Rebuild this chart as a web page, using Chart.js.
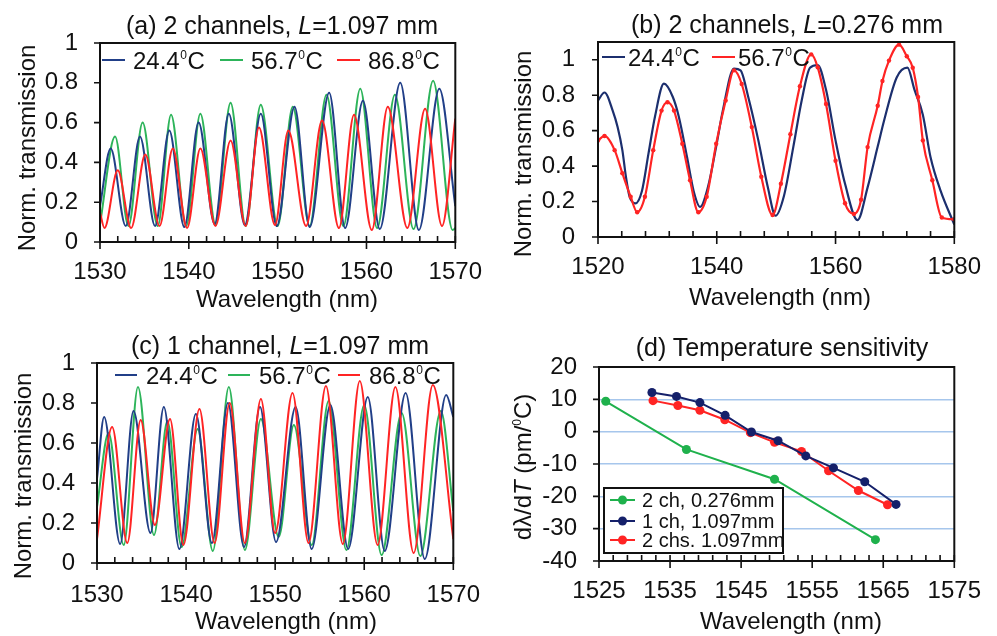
<!DOCTYPE html>
<html>
<head>
<meta charset="utf-8">
<script src="https://cdn.jsdelivr.net/npm/chart.js@4.4.1/dist/chart.umd.min.js"></script>
<style>
  html, body { margin: 0; padding: 0; background: #fff; }
  #page { position: relative; width: 997px; height: 636px; overflow: hidden;
          font-family: 'Liberation Sans', Arial, sans-serif; color: #111; }
  canvas { position: absolute; }
  .lbl { position: absolute; white-space: nowrap; line-height: 1; font-size: 24px;
         transform: translate(-50%, -50%); }
  .ttl { font-size: 25px; }
  .rot { transform: translate(-50%, -50%) rotate(-90deg); }
  sup { font-size: 0.5em; vertical-align: 0.85em; line-height: 0; }
</style>
</head>
<body>
<div id="page">
  <canvas id="chartA" width="498" height="318" style="left:0;top:0"></canvas>
  <canvas id="chartB" width="497" height="318" style="left:500px;top:0"></canvas>
  <canvas id="chartC" width="498" height="318" style="left:0;top:318px"></canvas>
  <canvas id="chartD" width="497" height="318" style="left:500px;top:318px"></canvas>

  <div class="lbl ttl" style="left:282px;top:25px">(a) 2 channels, <i>L</i>=1.097 mm</div>
  <div class="lbl ttl" style="left:787px;top:24px">(b) 2 channels, <i>L</i>=0.276 mm</div>
  <div class="lbl ttl" style="left:280px;top:345px">(c) 1 channel, <i>L</i>=1.097 mm</div>
  <div class="lbl ttl" style="left:782px;top:347px">(d) Temperature sensitivity</div>

  <div class="lbl" style="left:287px;top:299px">Wavelength (nm)</div>
  <div class="lbl" style="left:780px;top:297px">Wavelength (nm)</div>
  <div class="lbl" style="left:286px;top:621px">Wavelength (nm)</div>
  <div class="lbl" style="left:791px;top:621px">Wavelength (nm)</div>

  <div class="lbl rot" style="left:27px;top:148px">Norm. transmission</div>
  <div class="lbl rot" style="left:523px;top:154px">Norm. transmission</div>
  <div class="lbl rot" style="left:23px;top:476px">Norm. transmission</div>
  <div class="lbl rot" style="left:523px;top:467px">dλ/d<i>T</i> (pm/<sup>0</sup>C)</div>
</div>
<script>
// Legenden
const tempLabels = ['24.4⁰C', '56.7⁰C', '86.8⁰C'];
const sensLabels = ['2 ch, 0.276mm', '1 ch, 1.097mm', '2 chs. 1.097mm'];
// Achsenteilung von (b): 1.1 ist nur der Rand, ohne Beschriftung
const bYTicks = [0, 0.2, 0.4, 0.6, 0.8, 1];

// (a) 2 channels, L=1.097 mm
const aBlueX = [1530, 1531.2, 1532.9, 1534.5, 1536.2, 1537.8, 1539.5, 1541.1, 1542.9, 1544.5, 1546.3, 1548.1, 1549.9, 1551.9, 1553.6, 1555.8, 1557.6, 1559.6, 1561.5, 1563.8, 1565.9, 1568.2, 1570];
const aBlueY = [0.18, 0.47, 0.08, 0.53, 0.08, 0.56, 0.075, 0.60, 0.09, 0.645, 0.085, 0.645, 0.08, 0.68, 0.075, 0.75, 0.07, 0.71, 0.065, 0.80, 0.06, 0.77, 0.18];
const aGreenX = [1530, 1531.7, 1533.2, 1534.8, 1536.5, 1538.0, 1539.7, 1541.3, 1543.0, 1544.7, 1546.4, 1548.1, 1550.0, 1551.7, 1553.6, 1555.5, 1557.4, 1559.3, 1561.2, 1563.2, 1565.3, 1567.5, 1569.7, 1570];
const aGreenY = [0.09, 0.53, 0.08, 0.60, 0.08, 0.64, 0.08, 0.645, 0.09, 0.70, 0.08, 0.69, 0.08, 0.68, 0.08, 0.74, 0.08, 0.77, 0.07, 0.74, 0.065, 0.81, 0.06, 0.07];
const aRedX = [1530, 1530.5, 1532.0, 1533.5, 1535.1, 1536.7, 1538.2, 1539.8, 1541.3, 1543.0, 1544.7, 1546.4, 1547.9, 1549.7, 1551.2, 1553.2, 1555.0, 1556.9, 1558.6, 1560.6, 1562.4, 1564.6, 1566.6, 1568.5, 1570];
const aRedY = [0.15, 0.07, 0.36, 0.07, 0.44, 0.08, 0.47, 0.07, 0.47, 0.08, 0.51, 0.08, 0.575, 0.085, 0.56, 0.08, 0.61, 0.07, 0.64, 0.06, 0.68, 0.07, 0.67, 0.08, 0.62];

// (b) 2 channels, L=0.276 mm
const bBlueX = [1520, 1521.1, 1522.5, 1523.3, 1524.1, 1524.7, 1525.3, 1526.3, 1527.4, 1528.5, 1529.6, 1531.1, 1532.6, 1533.6, 1535.0, 1536.1, 1537.2, 1538.5, 1539.9, 1541.0, 1542.9, 1544.0, 1545.3, 1547.0, 1548.6, 1549.9, 1551.3, 1552.9, 1554.3, 1555.7, 1557.0, 1558.4, 1560.0, 1561.6, 1563.7, 1565.4, 1567.1, 1568.2, 1570.3, 1572.1, 1573.3, 1574.7, 1576.0, 1577.7, 1580];
const bBlueY = [0.77, 0.815, 0.71, 0.62, 0.49, 0.34, 0.23, 0.19, 0.26, 0.47, 0.68, 0.865, 0.79, 0.68, 0.45, 0.26, 0.17, 0.28, 0.51, 0.71, 0.95, 0.94, 0.79, 0.545, 0.28, 0.12, 0.23, 0.51, 0.77, 0.955, 0.97, 0.83, 0.545, 0.30, 0.095, 0.28, 0.51, 0.66, 0.90, 0.955, 0.83, 0.69, 0.45, 0.26, 0.07];
const bRedX = [1520, 1521.1, 1522.8, 1524.1, 1525.5, 1526.6, 1527.9, 1529.3, 1530.7, 1531.7, 1532.8, 1534.2, 1535.5, 1536.9, 1538.3, 1539.9, 1541.5, 1542.9, 1544.2, 1545.9, 1547.5, 1549.4, 1550.8, 1552.4, 1554.0, 1555.9, 1557.0, 1558.4, 1560.0, 1561.6, 1563.1, 1564.3, 1565.4, 1567.1, 1567.9, 1569.0, 1570.7, 1572.0, 1573.0, 1573.9, 1574.7, 1576.3, 1577.9, 1580];
const bRedY = [0.545, 0.57, 0.49, 0.36, 0.227, 0.14, 0.227, 0.49, 0.713, 0.76, 0.713, 0.526, 0.32, 0.14, 0.227, 0.526, 0.77, 0.94, 0.863, 0.62, 0.34, 0.124, 0.30, 0.58, 0.85, 1.03, 0.957, 0.75, 0.43, 0.19, 0.13, 0.21, 0.507, 0.74, 0.88, 0.995, 1.085, 1.02, 0.955, 0.79, 0.545, 0.32, 0.11, 0.10];

// (c) 1 channel, L=1.097 mm
const cBlueX = [1530, 1530.8, 1532.6, 1534.1, 1536.0, 1537.5, 1539.25, 1541.1, 1542.9, 1544.7, 1546.5, 1548.3, 1550.1, 1552.3, 1554.1, 1556.2, 1558.2, 1560.4, 1562.3, 1564.65, 1566.8, 1569.2, 1570];
const cBlueY = [0.42, 0.73, 0.095, 0.76, 0.15, 0.78, 0.07, 0.745, 0.10, 0.80, 0.08, 0.78, 0.105, 0.78, 0.07, 0.79, 0.07, 0.83, 0.06, 0.85, 0.02, 0.84, 0.73];
const cGreenX = [1530, 1531.3, 1533.0, 1534.6, 1536.4, 1537.9, 1539.5, 1541.3, 1543.0, 1544.8, 1546.6, 1548.4, 1550.4, 1552.1, 1554.1, 1556.0, 1558.0, 1560.0, 1561.95, 1564.2, 1566.3, 1568.6, 1570];
const cGreenY = [0.28, 0.65, 0.09, 0.88, 0.14, 0.71, 0.08, 0.67, 0.06, 0.88, 0.065, 0.72, 0.13, 0.69, 0.09, 0.81, 0.065, 0.79, 0.04, 0.75, 0.035, 0.76, 0.26];
const cRedX = [1530, 1531.7, 1533.4, 1534.9, 1536.5, 1538.2, 1539.7, 1541.5, 1543.2, 1544.9, 1546.6, 1548.4, 1550.0, 1551.95, 1553.75, 1555.7, 1557.6, 1559.5, 1561.5, 1563.5, 1565.55, 1567.7, 1570];
const cRedY = [0.12, 0.68, 0.10, 0.715, 0.19, 0.72, 0.09, 0.77, 0.10, 0.80, 0.10, 0.82, 0.15, 0.85, 0.10, 0.885, 0.095, 0.91, 0.09, 0.88, 0.05, 0.89, 0.12];

// (d) Temperature sensitivity
const dGreenX = [1525.95, 1537.3, 1549.7, 1563.9];
const dGreenY = [9.4, -5.5, -14.7, -33.4];
const dNavyX = [1532.45, 1535.9, 1539.2, 1542.75, 1546.45, 1550.2, 1554.1, 1558.0, 1562.4, 1566.8];
const dNavyY = [12.1, 10.9, 9.0, 5.05, -0.1, -2.8, -7.5, -11.2, -15.5, -22.5];
const dRedX = [1532.6, 1536.1, 1539.2, 1542.7, 1546.3, 1549.7, 1553.5, 1557.3, 1561.5, 1565.6];
const dRedY = [9.6, 8.1, 6.6, 3.7, -0.3, -3.3, -6.1, -12.1, -18.2, -22.6];

const FONT = "'Liberation Sans', Arial, sans-serif";
const tickFont = { family: FONT, size: 24 };
const navy = '#213f88', green = '#2db45a', red = '#ff2424';

function pts(xs, ys) {
  return xs.map((x, i) => ({ x: x, y: ys[i] }));
}

function series(label, color, xs, ys, width, extra) {
  return Object.assign({
    label: label, data: pts(xs, ys), borderColor: color, backgroundColor: color,
    borderWidth: width, pointRadius: 0, fill: false, cubicInterpolationMode: 'monotone'
  }, extra || {});
}

// Text mit hochgestellter 0
function drawLabel(ctx, text, x, y, size) {
  const parts = text.split('⁰');
  const base = y + 0.36 * size;
  ctx.textBaseline = 'alphabetic';
  ctx.textAlign = 'left';
  parts.forEach((p, i) => {
    ctx.font = size + 'px ' + FONT;
    ctx.fillText(p, x, base);
    x += ctx.measureText(p).width;
    if (i < parts.length - 1) {
      ctx.font = Math.round(size * 0.52) + 'px ' + FONT;
      ctx.fillText('0', x + 0.5, base - 0.42 * size);
      x += ctx.measureText('0').width + 1;
    }
  });
}

const inlineLegend = {
  id: 'inlineLegend',
  afterDraw(chart, args, o) {
    const ctx = chart.ctx;
    ctx.save();
    if (o.box) {
      const b = o.box;
      ctx.fillStyle = '#fff';
      ctx.fillRect(b[0], b[1], b[2] - b[0], b[3] - b[1]);
      ctx.strokeStyle = '#111';
      ctx.lineWidth = 2;
      ctx.strokeRect(b[0], b[1], b[2] - b[0], b[3] - b[1]);
    }
    o.xs.forEach((x, k) => {
      const ds = chart.data.datasets[k];
      const y = o.ys[k];
      ctx.strokeStyle = ds.borderColor;
      ctx.lineWidth = o.lineWidth;
      ctx.beginPath();
      ctx.moveTo(x, y);
      ctx.lineTo(x + o.len, y);
      ctx.stroke();
      if (o.marker) {
        ctx.fillStyle = ds.borderColor;
        ctx.beginPath();
        ctx.arc(x + o.len / 2, y, o.marker, 0, Math.PI * 2);
        ctx.fill();
      }
      ctx.fillStyle = '#111';
      drawLabel(ctx, ds.label, x + o.len + o.gap, y, o.size);
    });
    ctx.restore();
  }
};

// Rahmen und Teilstriche
const frameTicks = {
  id: 'frameTicks',
  afterDatasetsDraw(chart, args, o) {
    const ctx = chart.ctx, a = chart.chartArea, x = chart.scales.x, y = chart.scales.y;
    ctx.save();
    ctx.strokeStyle = '#111';
    ctx.lineWidth = 1.6;
    ctx.beginPath();
    y.ticks.forEach(t => {
      const p = y.getPixelForValue(t.value);
      ctx.moveTo(a.left - 6, p); ctx.lineTo(a.left, p);
    });
    x.ticks.forEach(t => {
      const p = x.getPixelForValue(t.value);
      ctx.moveTo(p, a.bottom - 6); ctx.lineTo(p, a.bottom + 7);
    });
    const n = Math.round((x.max - x.min) / o.minor);
    for (let i = 1; i < n; i++) {
      const p = x.getPixelForValue(x.min + i * o.minor);
      ctx.moveTo(p, a.bottom - 6); ctx.lineTo(p, a.bottom);
    }
    ctx.stroke();
    ctx.lineWidth = 2;
    ctx.strokeRect(a.left, a.top, a.right - a.left, a.bottom - a.top);
    ctx.restore();
  }
};

function xAxis(min, max, step, pad, height) {
  return {
    type: 'linear', min: min, max: max,
    ticks: { stepSize: step, padding: pad, color: '#111', font: tickFont, maxRotation: 0, autoSkip: false,
             callback: v => String(v) },
    grid: { display: false, drawTicks: false },
    border: { display: false },
    afterFit: s => { s.height = height; }
  };
}

function yAxis(min, max, step, pad, width, extra) {
  return Object.assign({
    type: 'linear', min: min, max: max,
    ticks: { stepSize: step, padding: pad, color: '#111', font: tickFont, autoSkip: false,
             callback: v => String(Math.round(v * 100) / 100) },
    grid: { display: false, drawTicks: false },
    border: { display: false },
    afterFit: s => { s.width = width; }
  }, extra || {});
}

function makeChart(id, datasets, x, y, padding, legendOpts, minor) {
  return new Chart(document.getElementById(id), {
    type: 'line',
    data: { datasets: datasets },
    options: {
      responsive: false, animation: false, devicePixelRatio: 1,
      layout: { padding: padding },
      scales: { x: x, y: y },
      plugins: {
        legend: { display: false }, tooltip: { enabled: false },
        inlineLegend: legendOpts, frameTicks: { minor: minor }
      }
    },
    plugins: [frameTicks, inlineLegend]
  });
}

makeChart('chartA', [
    series(tempLabels[0], navy, aBlueX, aBlueY, 2),
    series(tempLabels[1], green, aGreenX, aGreenY, 2, { order: 1 }),
    series(tempLabels[2], red, aRedX, aRedY, 2, { order: -1 })
  ],
  xAxis(1530, 1570, 10, 16, 76),
  yAxis(0, 1, 0.2, 22, 100),
  { top: 43, right: 30, bottom: 0, left: 0 },
  { xs: [102, 220, 337], ys: [60, 60, 60], len: 23, gap: 8, size: 24, lineWidth: 2 },
  2);

makeChart('chartB', [
    series(tempLabels[0], '#1c2f6e', bBlueX, bBlueY, 2.2),
    series(tempLabels[1], red, bRedX, bRedY, 2.2, { order: -1, pointRadius: 2.2, pointBorderWidth: 0 })
  ],
  xAxis(1520, 1580, 20, 16, 81),
  yAxis(0, 1.1, 0.2, 23, 98, {
    afterBuildTicks: s => { s.ticks = bYTicks.map(v => ({ value: v })); }
  }),
  { top: 42, right: 31, bottom: 0, left: 0 },
  { xs: [102, 212], ys: [57, 57], len: 23, gap: 3, size: 24, lineWidth: 2 },
  4);

makeChart('chartC', [
    series(tempLabels[0], navy, cBlueX, cBlueY, 2),
    series(tempLabels[1], green, cGreenX, cGreenY, 2, { order: 1 }),
    series(tempLabels[2], red, cRedX, cRedY, 2, { order: -1 })
  ],
  xAxis(1530, 1570, 10, 18, 73),
  yAxis(0, 1, 0.2, 22, 97),
  { top: 45, right: 32, bottom: 0, left: 0 },
  { xs: [115, 228, 338], ys: [57, 57, 57], len: 22, gap: 9, size: 24, lineWidth: 2 },
  2);

const markerStyle = { pointRadius: 4.5, pointBorderWidth: 0, cubicInterpolationMode: 'default', tension: 0 };
makeChart('chartD', [
    series(sensLabels[0], '#1fb14c', dGreenX, dGreenY, 2, markerStyle),
    series(sensLabels[1], '#15206a', dNavyX, dNavyY, 2, markerStyle),
    series(sensLabels[2], red, dRedX, dRedY, 2, markerStyle)
  ],
  xAxis(1525, 1575, 10, 16, 75),
  yAxis(-40, 20, 10, 22, 99, {
    grid: {
      display: true, drawTicks: false, lineWidth: 1.5,
      color: c => (c.tick && (c.tick.value === 20 || c.tick.value === -40)) ? 'rgba(0,0,0,0)' : '#a6c6ec'
    }
  }),
  { top: 49, right: 29, bottom: 0, left: 0 },
  { box: [104, 170, 283, 235], xs: [110, 110, 110], ys: [182, 203, 222], len: 25, gap: 7, size: 20,
    lineWidth: 2, marker: 4.5 },
  2);
</script>
</body>
</html>
